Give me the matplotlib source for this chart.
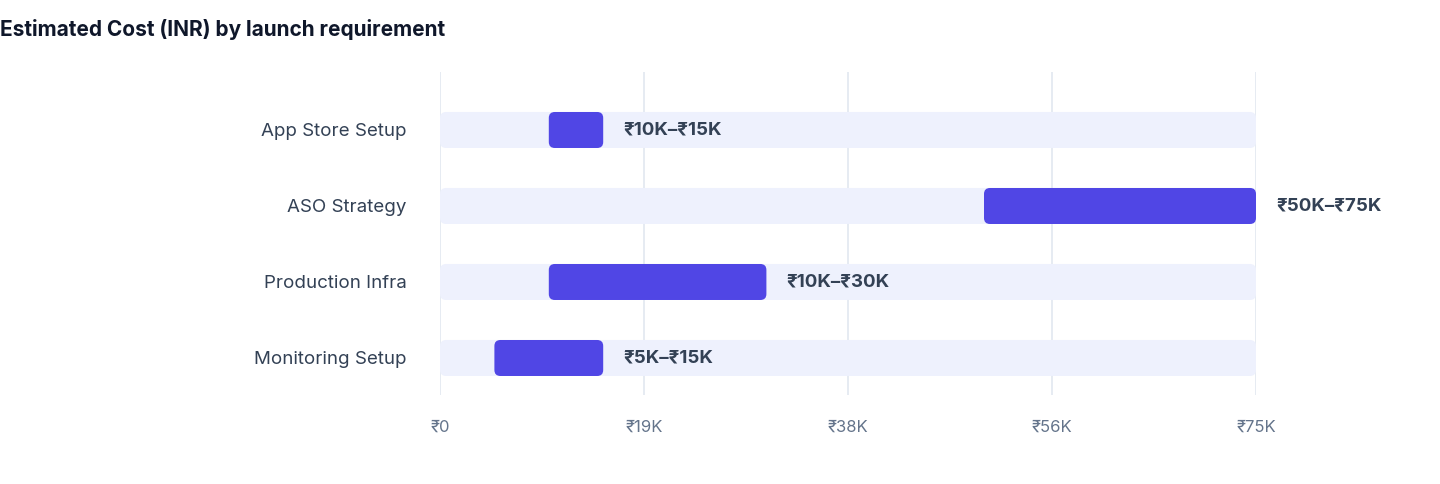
import matplotlib
matplotlib.use("Agg")
import matplotlib.pyplot as plt
from matplotlib.patches import FancyBboxPatch

plt.rcParams['font.family'] = ['Inter', 'DejaVu Sans']

categories = ["App Store Setup", "ASO Strategy", "Production Infra", "Monitoring Setup"]
low = [10000, 50000, 10000, 5000]
high = [15000, 75000, 30000, 15000]
labels = ["₹10K–₹15K", "₹50K–₹75K", "₹10K–₹30K", "₹5K–₹15K"]
xmax = 75000
ticks = [0, 18750, 37500, 56250, 75000]
tick_labels = ["₹0", "₹19K", "₹38K", "₹56K", "₹75K"]

fig = plt.figure(figsize=(14.4, 4.84), dpi=100)
ax = fig.add_axes([440 / 1440, 1 - 395 / 484, 816 / 1440, 323 / 484])
ax.set_xlim(0, xmax)
ax.set_ylim(3.487, -0.763)

# data units per pixel, for rounded corners
xpp = xmax / 816
ypp = 1 / 76
aspect = ypp / xpp
h = 36 * ypp

for i in range(len(categories)):
    track = FancyBboxPatch((0, i - h / 2), xmax, h,
                           boxstyle=f"round,pad=0,rounding_size={6 * xpp}",
                           mutation_aspect=aspect, fc="#EEF1FD", ec="none", zorder=1)
    ax.add_patch(track)
    bar = FancyBboxPatch((low[i], i - h / 2), high[i] - low[i], h,
                         boxstyle=f"round,pad=0,rounding_size={6 * xpp}",
                         mutation_aspect=aspect, fc="#5046E5", ec="none", zorder=2)
    ax.add_patch(bar)
    ax.text(high[i] + 20 * xpp, i, labels[i], va="center", ha="left",
            fontsize=13.5, fontweight="bold", color="#334155", zorder=3)

ax.set_xticks(ticks)
ax.set_xticklabels(tick_labels, color="#64748B", fontsize=12)
ax.set_yticks(range(len(categories)))
ax.set_yticklabels(categories, color="#334155", fontsize=13.5)
ax.tick_params(length=0)
ax.tick_params(axis="x", pad=18)
ax.tick_params(axis="y", pad=24)
ax.grid(axis="x", color="#E2E8F0", linewidth=1.2, zorder=0)
ax.set_axisbelow(True)
for s in ax.spines.values():
    s.set_visible(False)

fig.text(0, 1 - 30 / 484, "Estimated Cost (INR) by launch requirement",
         fontsize=15, fontweight="bold", color="#0F172A", va="center", ha="left")

fig.savefig("out.png", dpi=100)
